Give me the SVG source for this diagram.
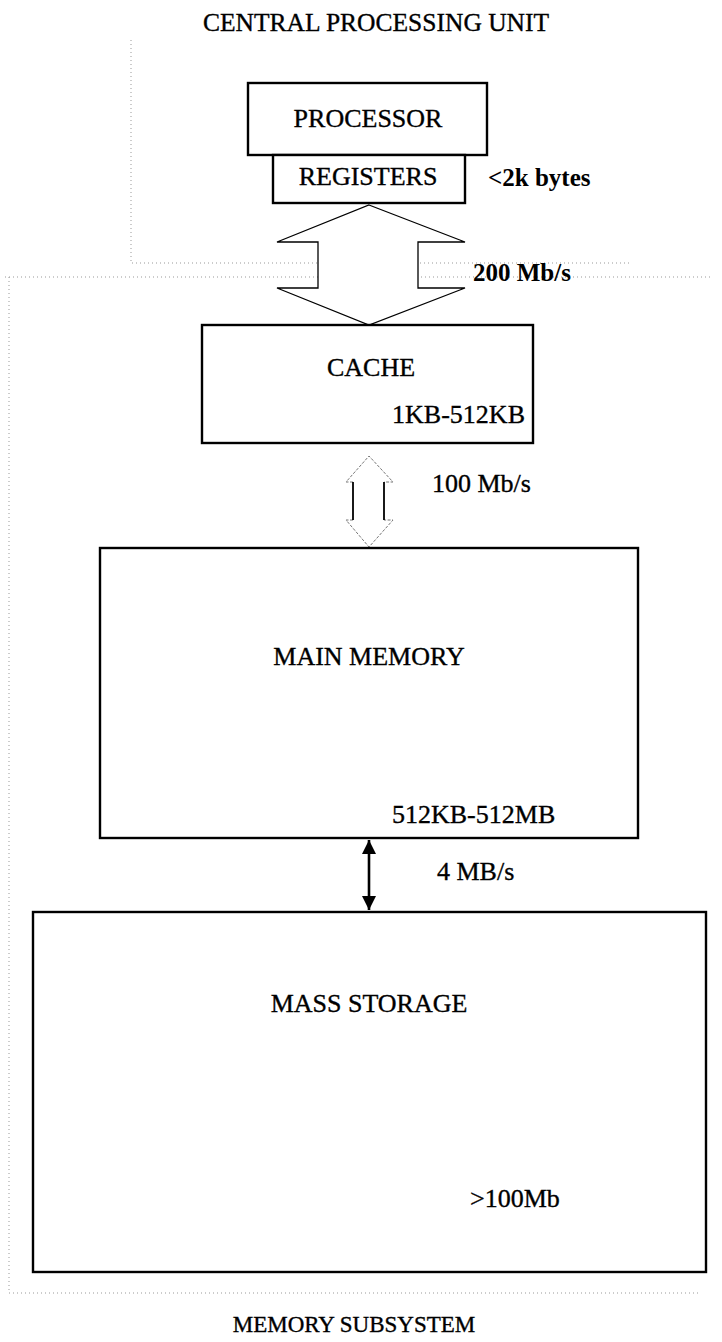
<svg xmlns="http://www.w3.org/2000/svg" width="722" height="1342" viewBox="0 0 722 1342">
<defs>
<style>
.box{fill:#fff;stroke:#000;stroke-width:2.4}
.t{font-family:"Liberation Serif","Times New Roman",serif;font-size:26px;fill:#000;stroke:#000;stroke-width:0.35}
.tb{font-family:"Liberation Serif","Times New Roman",serif;font-size:25px;font-weight:bold;fill:#000}
.dot{fill:none;stroke:#999;stroke-width:1;stroke-dasharray:1 3}
.bus{fill:#fff;stroke:#000;stroke-width:1.3}
.head2{fill:none;stroke:#777;stroke-width:1;stroke-dasharray:3 1.5}
.shaft2{fill:none;stroke:#000;stroke-width:1.8}
</style>
<marker id="ah" viewBox="0 0 14 14" refX="14" refY="7" markerWidth="14" markerHeight="14" markerUnits="userSpaceOnUse" orient="auto-start-reverse">
<path d="M0,0 L14,7 L0,14 z" fill="#000"/>
</marker>
</defs>
<g id="frames">
<polyline class="dot" points="131,40 131,263 630,263"/>
<line class="dot" x1="5" y1="277" x2="713" y2="277"/>
<line class="dot" x1="9" y1="277" x2="9" y2="1293"/>
<line class="dot" x1="9" y1="1293" x2="700" y2="1293"/>
</g>
<text class="t" x="376" y="31" text-anchor="middle" style="font-size:25.5px">CENTRAL PROCESSING UNIT</text>
<g id="connectors">
<polygon class="bus" points="369,205 465,242 418,242 418,288 465,288 369,325 277,288 318,288 318,242 277,242"/>
<g id="bus-cache-main">
<polygon points="369,456 393,482 384,482 384,520 393,520 369,547 346,520 353,520 353,482 346,482" fill="#fff" stroke="none"/>
<polyline class="head2" points="353,482 346,482 369,456 393,482 384,482"/>
<polyline class="head2" points="353,520 346,520 369,547 393,520 384,520"/>
<line class="shaft2" x1="353" y1="482" x2="353" y2="520"/>
<line class="shaft2" x1="384" y1="482" x2="384" y2="520"/>
</g>
<line x1="369" y1="840" x2="369" y2="910" stroke="#000" stroke-width="2.6" marker-start="url(#ah)" marker-end="url(#ah)"/>
</g>
<g id="processor">
<rect class="box" x="248" y="83" width="239" height="72"/>
<text class="t" x="368" y="127" text-anchor="middle">PROCESSOR</text>
</g>
<g id="registers">
<rect class="box" x="273" y="155" width="192" height="48"/>
<text class="t" x="368" y="185" text-anchor="middle">REGISTERS</text>
</g>
<text class="tb" x="488" y="186">&lt;2k bytes</text>
<text class="tb" x="473" y="281">200 Mb/s</text>
<g id="cache">
<rect class="box" x="202" y="325" width="331" height="118"/>
<text class="t" x="371" y="376" text-anchor="middle">CACHE</text>
<text class="t" x="525" y="423" text-anchor="end">1KB-512KB</text>
</g>
<text class="t" x="432" y="492">100 Mb/s</text>
<g id="main-memory">
<rect class="box" x="100" y="548" width="538" height="290"/>
<text class="t" x="369" y="665" text-anchor="middle">MAIN MEMORY</text>
<text class="t" x="392" y="823">512KB-512MB</text>
</g>
<text class="t" x="437" y="880">4 MB/s</text>
<g id="mass-storage">
<rect class="box" x="33" y="912" width="673" height="360"/>
<text class="t" x="369" y="1012" text-anchor="middle">MASS STORAGE</text>
<text class="t" x="470" y="1207">&gt;100Mb</text>
</g>
<text class="t" x="354" y="1332" text-anchor="middle" style="font-size:23px">MEMORY SUBSYSTEM</text>
</svg>
